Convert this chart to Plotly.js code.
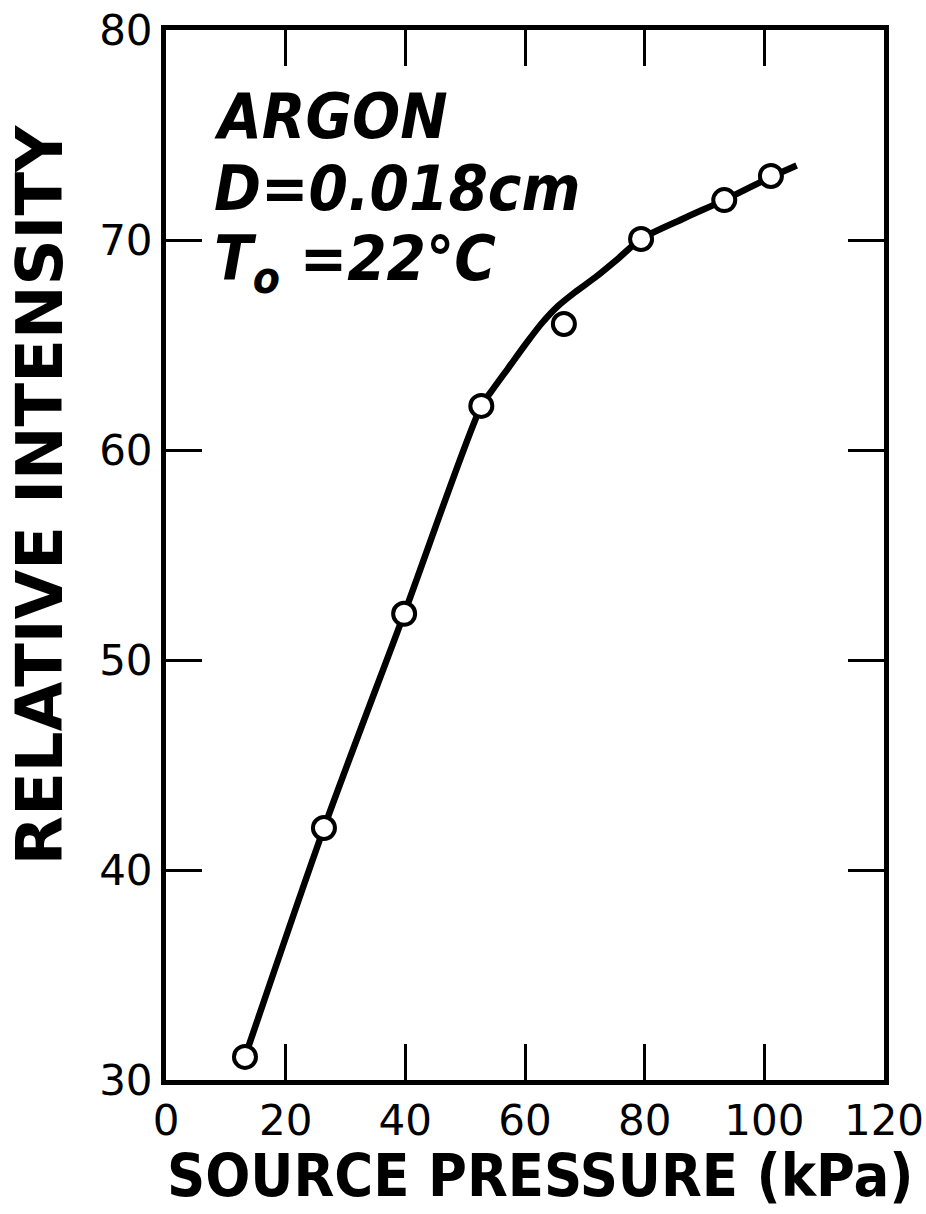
<!DOCTYPE html>
<html><head><meta charset="utf-8">
<script src="https://cdn.plot.ly/plotly-3.0.1.min.js"></script>
<style>html,body{margin:0;padding:0;background:#fff}#chart{width:926px;height:1214px}</style>
</head><body><div id="chart"></div>
<script>
// Measured data points (open circles)
const pressureKPa = [13.2, 26.4, 39.8, 52.7, 66.5, 79.4, 93.3, 101.1];
const relIntensity = [31.1, 42.0, 52.2, 62.1, 66.0, 70.05, 71.9, 73.05];
// Hand-drawn smooth curve
const curveX = [13.2, 26.4, 39.8, 52.7, 54.4, 57.2, 60.0, 62.7, 65.5, 68.3, 71.65, 75.5, 79.4, 86.7, 93.3, 101.1, 105.4];
const curveY = [31.1, 42.0, 52.2, 62.1, 62.8, 63.9, 65.0, 66.0, 66.85, 67.5, 68.2, 69.1, 70.05, 71.05, 71.9, 73.0, 73.55];
// Axis ticks
const xTicks = [0, 20, 40, 60, 80, 100, 120];
const yTicks = [30, 40, 50, 60, 70, 80];
// Label text
const labelLines = ['ARGON', 'D=0.018cm', 'T<sub>o</sub> =22°C'];
const xTitle = 'SOURCE PRESSURE (kPa)';
const yTitle = 'RELATIVE INTENSITY';

const traces = [
  {x: curveX, y: curveY, type: 'scatter', mode: 'lines',
   line: {color: '#000', width: 6.5, shape: 'spline', smoothing: 0.8}, hoverinfo: 'skip'},
  {x: pressureKPa, y: relIntensity, type: 'scatter', mode: 'markers',
   marker: {symbol: 'circle', size: 22, color: '#fff', line: {color: '#000', width: 4}}}
];

const labelFont = {family: 'DejaVu Sans Condensed, DejaVu Sans', size: 63, weight: 'bold', style: 'italic', color: '#000'};
const labelY = [0.918, 0.849, 0.779];
const annotations = labelLines.map((t, i) => ({
  text: t, xref: 'paper', yref: 'paper', x: 0.064, y: labelY[i],
  xanchor: 'left', yanchor: 'middle', showarrow: false, font: labelFont, align: 'left'
}));
annotations.push({
  text: yTitle, xref: 'paper', yref: 'paper', x: -0.1755, y: 0.557,
  xanchor: 'center', yanchor: 'middle', textangle: -90, showarrow: false,
  font: {family: 'DejaVu Sans', size: 64, weight: 'bold', color: '#000'}
});
annotations.push({
  text: xTitle, xref: 'paper', yref: 'paper', x: 0.521, y: -0.0905,
  xanchor: 'center', yanchor: 'middle', showarrow: false,
  font: {family: 'DejaVu Sans Condensed, DejaVu Sans', size: 59, weight: 'bold', color: '#000'}
});

const axisCommon = {
  ticks: 'inside', ticklen: 36, tickwidth: 3, tickcolor: '#000',
  showline: true, linewidth: 5, linecolor: '#000', mirror: 'ticks',
  showgrid: false, zeroline: false,
  tickfont: {family: 'DejaVu Sans', size: 42, color: '#000'}
};

const layout = {
  width: 926, height: 1214,
  margin: {l: 166, r: 42, t: 30, b: 134},
  paper_bgcolor: '#fff', plot_bgcolor: '#fff',
  showlegend: false,
  xaxis: Object.assign({}, axisCommon, {
    range: [0, 120], tickvals: xTicks, ticktext: xTicks.map(String),
    ticklabelstandoff: 0
  }),
  yaxis: Object.assign({}, axisCommon, {
    range: [30, 80], tickvals: yTicks, ticktext: yTicks.map(String),
    ticklabelstandoff: 0
  }),
  annotations: annotations
};

Plotly.newPlot('chart', traces, layout, {displayModeBar: false, staticPlot: true});
</script>
</body></html>
